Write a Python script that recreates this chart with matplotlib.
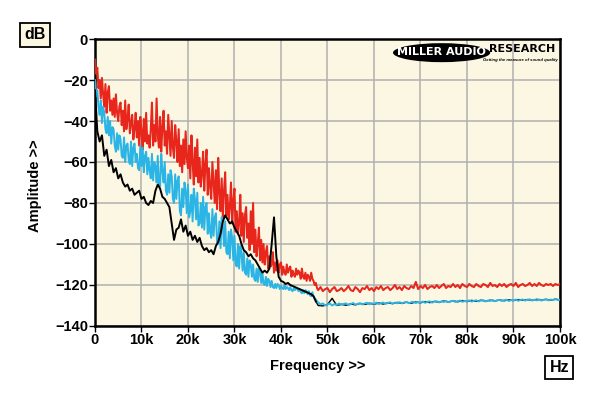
import numpy as np
import matplotlib.pyplot as plt
from matplotlib.patches import Ellipse

plt.rcParams['font.family'] = ['Liberation Sans', 'DejaVu Sans']

## Frecuencias (kHz): roja/cyan cada 0.25k hasta 48k, luego cada 0.5k
f_fine = np.arange(0, 48, 0.25)
f_flat = np.arange(48, 100.5, 0.5)
freq_rc = np.concatenate([f_fine, f_flat]) * 1000
## Negra: cada 0.5k hasta 48k, luego cada 1k
freq_k = np.concatenate([np.arange(0, 48, 0.5), np.arange(48, 101, 1.0)]) * 1000

## Curva roja
red_low = [-10, -17, -14, -24, -20, -29, -19, -27, -33, -22, -36, -26,
           -23, -35, -30, -37, -29, -38, -27, -36, -40, -33, -31, -42,
           -35, -45, -30, -44, -39, -32, -46, -41, -37, -49, -44, -36,
           -48, -40, -52, -38, -45, -54, -39, -50, -36, -51, -47, -53,
           -44, -31, -52, -42, -50, -29, -47, -53, -38, -55, -43, -35,
           -52, -45, -56, -37, -47, -57, -40, -53, -58, -42, -50, -60,
           -44, -62, -52, -65, -49, -61, -45, -58, -63, -52, -68, -47,
           -60, -71, -53, -67, -49, -70, -58, -72, -66, -55, -74, -61,
           -54, -76, -63, -72, -78, -60, -70, -80, -64, -83, -58, -75,
           -84, -68, -87, -74, -65, -86, -76, -88, -82, -70, -90, -79,
           -73, -94, -84, -95, -90, -76, -96, -85, -99, -86, -82, -97,
           -90, -103, -84, -100, -80, -104, -93, -106, -100, -92, -108, -98,
           -109, -100, -110, -104, -101, -112, -106, -111, -110, -104, -114, -109,
           -113, -108, -114, -110, -109, -115, -111, -114, -115, -110, -114, -112,
           -111, -116, -113, -115, -116, -112, -115, -113, -114, -117, -112, -116,
           -117, -114, -118, -115, -116, -118, -114, -117, -118, -120, -119, -121.5]
red_high = [-122.5, -121, -123, -122, -121.5, -123.5, -122, -121, -123, -122.5,
            -121.5, -123, -122, -120.5, -122.5, -123, -121, -122, -123.5, -121.5,
            -122, -120.5, -122.5, -121.5, -123, -121, -122, -120.5, -122.5, -121.5,
            -121, -122.5, -121.5, -120, -122, -121, -122.5, -120.5, -121.5, -122,
            -120.5, -121.5, -118.5, -122, -120.5, -121.5, -120, -122, -121, -120.5,
            -121.5, -120, -121.5, -120.5, -119.5, -121.5, -120.5, -121, -119.5, -121,
            -120, -121.5, -119.5, -120.5, -121, -119.5, -120.5, -121, -119.5, -120.5,
            -121, -119.5, -120, -121, -119, -120.5, -120, -121, -119.5, -120.5,
            -119.5, -121, -120, -119.5, -120.5, -119, -121, -120, -119.5, -120.5,
            -120, -119, -120.5, -119.5, -120.5, -119, -120, -120.5, -119.5, -120,
            -119.5, -120.5, -119.5, -120, -119.5]

## Curva cyan
cyan_low = [-20, -28, -25, -33, -37, -30, -41, -33, -36, -44, -46, -38,
            -47, -40, -51, -43, -44, -52, -55, -46, -54, -47, -49, -57,
            -58, -48, -60, -52, -51, -59, -61, -50, -62, -53, -51, -60,
            -56, -63, -64, -52, -62, -53, -65, -57, -55, -66, -58, -64,
            -68, -56, -69, -60, -62, -70, -57, -71, -72, -56, -64, -70,
            -60, -74, -76, -66, -75, -64, -67, -78, -80, -66, -78, -69,
            -67, -84, -86, -73, -82, -70, -74, -85, -71, -87, -84, -76,
            -89, -73, -78, -88, -75, -91, -90, -80, -92, -77, -93, -82,
            -80, -95, -85, -94, -97, -83, -96, -87, -85, -99, -100, -89,
            -102, -87, -91, -101, -89, -104, -105, -94, -107, -93, -97, -108,
            -96, -110, -111, -100, -112, -101, -104, -113, -104, -114, -115, -107,
            -116, -108, -110, -116, -110, -117, -118, -112, -118.5, -112, -114, -119,
            -114, -119.5, -120, -116, -120.5, -117, -118, -121, -118, -121, -121.5, -119.5,
            -121.5, -119.5, -120, -122, -120.5, -121.5, -122, -120, -122, -121, -121.5, -122.5,
            -121, -122.5, -123, -121.5, -122.5, -121.5, -122, -123, -122, -123.5, -124, -122.5,
            -124, -122.5, -123, -124.5, -123, -125, -125.5, -123.5, -125.5, -126.5, -127, -128]
cyan_high = [-128.5, -129.5, -129, -130, -129.5, -129, -130, -129.3, -129.8, -129,
             -129.7, -129.2, -129, -129.8, -129.3, -128.8, -129.6, -129.2, -128.9, -129.5,
             -129, -128.7, -129.4, -128.9, -129.2, -128.6, -129.3, -128.8, -128.6, -129.2,
             -128.7, -128.5, -129.1, -128.6, -128.9, -128.4, -128.9, -128.5, -128.3, -128.9,
             -128.4, -128.2, -128.8, -128.3, -128.6, -128.1, -128.7, -128.2, -128, -128.6,
             -128.1, -127.9, -128.5, -128, -128.3, -127.8, -128.4, -128, -127.7, -128.3,
             -127.9, -127.6, -128.2, -127.8, -128, -127.5, -128.1, -127.7, -127.5, -128,
             -127.6, -127.4, -128, -127.6, -127.8, -127.3, -127.9, -127.5, -127.3, -127.8,
             -127.4, -127.2, -127.8, -127.4, -127.6, -127.1, -127.7, -127.3, -127.1, -127.6,
             -127.2, -127, -127.6, -127.2, -127.5, -127, -127.6, -127.2, -127, -127.5,
             -127.1, -127.4, -126.9, -127.3, -127.2]

## Curva negra
black_low = [-25, -45, -50, -47, -57, -54, -62, -59, -65, -63,
             -68, -66, -70, -72, -71, -74, -73, -76, -75, -74,
             -78, -77, -80, -81, -79, -80, -74, -71, -73, -77,
             -78, -80, -82, -90, -98, -93, -92, -88, -94, -91,
             -96, -94, -98, -96, -99, -97, -101, -103, -102, -104,
             -103, -105, -101, -99, -95, -89, -86, -88, -90, -89,
             -92, -94, -96, -100, -103, -104, -106, -105, -107, -108,
             -110, -112, -114, -113, -114, -112, -100, -87, -106, -116,
             -118, -118.5, -119.5, -119, -120, -120.5, -121, -121.5, -122, -122.5,
             -123, -123.5, -124, -124.5, -125.5, -128]
black_high = [-130, -130.2, -129.6, -126.5, -130, -129.4, -129.9, -129.2, -129.7, -129,
              -129.5, -128.9, -129.4, -128.8, -129.3, -128.7, -129.1, -128.5, -129, -128.4,
              -128.9, -128.3, -128.7, -128.1, -128.6, -128, -128.4, -127.8, -128.3, -127.7,
              -128.2, -127.6, -128.1, -127.5, -128, -127.4, -127.9, -127.4, -127.8, -127.3,
              -127.7, -127.2, -127.6, -127.1, -127.5, -127.1, -127.5, -127, -127.4, -127,
              -127.4, -126.9, -127.3]

red = np.array(red_low + red_high)
cyan = np.array(cyan_low + cyan_high)
black = np.array(black_low + black_high)

xticks = [0, 10000, 20000, 30000, 40000, 50000, 60000, 70000, 80000, 90000, 100000]
xlabels = ['0', '10k', '20k', '30k', '40k', '50k', '60k', '70k', '80k', '90k', '100k']
yticks = [0, -20, -40, -60, -80, -100, -120, -140]

fig = plt.figure(figsize=(6, 3.96), dpi=100)
fig.patch.set_facecolor('white')
ax = fig.add_axes([0.1583, 0.1768, 0.775, 0.7247])
ax.set_facecolor('#FBF7E2')

ax.plot(freq_rc, red, color='#E8261C', lw=1.45, zorder=3)
nb = len(black_low)
ax.plot(freq_k[nb - 1:], black[nb - 1:], color='black', lw=1.0, zorder=3.5)
ax.plot(freq_rc, cyan, color='#2BB5E6', lw=1.4, zorder=4)
ax.plot(freq_k[:nb], black[:nb], color='black', lw=1.4, zorder=5)

ax.set_xlim(0, 100000)
ax.set_ylim(-140, 0)
ax.set_xticks(xticks)
ax.set_xticklabels(xlabels)
ax.set_yticks(yticks)
ax.grid(True, color='#B0B0B0', lw=1.1, zorder=1)
ax.set_axisbelow(True)
for s in ax.spines.values():
    s.set_linewidth(1.8)
ax.tick_params(axis='both', direction='out', length=4, width=1, labelsize=10.5, pad=1)
for lab in ax.get_xticklabels() + ax.get_yticklabels():
    lab.set_fontweight('bold')

fig.text(0.53, 0.075, 'Frequency >>', ha='center', va='center', fontsize=10.5, fontweight='bold')
fig.text(0.058, 0.53, 'Amplitude >>', ha='center', va='center', rotation='vertical',
         fontsize=10.5, fontweight='bold')

## Cajas de unidades
fig.text(0.058, 0.912, 'dB', ha='center', va='center', fontsize=11.5, fontweight='bold',
         bbox=dict(boxstyle='square,pad=0.28', fc='#FBF7E2', ec='black', lw=1.3))
fig.text(0.932, 0.072, 'Hz', ha='center', va='center', fontsize=11.5, fontweight='bold',
         bbox=dict(boxstyle='square,pad=0.25', fc='white', ec='black', lw=1.3))

## Logo
fig.patches.append(Ellipse((0.736, 0.867), 0.162, 0.048, transform=fig.transFigure,
                           fc='black', ec='none', zorder=10))
fig.text(0.736, 0.869, 'MILLER AUDIO', ha='center', va='center', color='white',
         fontsize=8, fontweight='bold', family='DejaVu Sans', zorder=11)
fig.text(0.871, 0.875, 'RESEARCH', ha='center', va='center', color='black',
         fontsize=8, fontweight='bold', family='DejaVu Sans', zorder=11)
fig.text(0.8675, 0.849, 'Getting the measure of sound quality', ha='center', va='center',
         color='black', fontsize=3.1, fontweight='bold', style='italic', zorder=11)

plt.savefig('out.png', dpi=100)
plt.close()
